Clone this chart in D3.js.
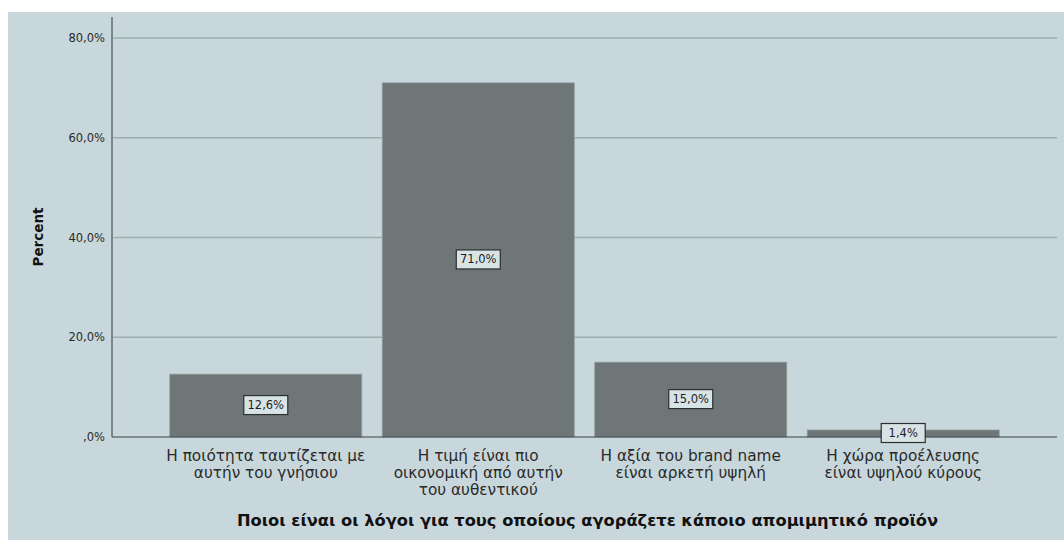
<!DOCTYPE html>
<html>
<head>
<meta charset="utf-8">
<script src="https://cdn.jsdelivr.net/npm/d3@7/dist/d3.min.js"></script>
<style>
  html, body { margin: 0; padding: 0; background: #ffffff; }
  svg { display: block; }
</style>
</head>
<body>
<svg id="chart" width="1064" height="540"></svg>
<script>
// Reasons for buying a counterfeit product (percent of respondents)
const categories = [
  ["Η ποιότητα ταυτίζεται με", "αυτήν του γνήσιου"],
  ["Η τιμή είναι πιο", "οικονομική από αυτήν", "του αυθεντικού"],
  ["Η αξία του brand name", "είναι αρκετή υψηλή"],
  ["Η χώρα προέλευσης", "είναι υψηλού κύρους"]
];
const percents = [12.6, 71.0, 15.0, 1.4];
const yTicks = [0, 20, 40, 60, 80];
const xTitle = "Ποιοι είναι οι λόγοι για τους οποίους αγοράζετε κάποιο απομιμητικό προϊόν";
const yTitle = "Percent";

// "20,0%" style, with the leading zero dropped for zero (",0%")
const pct = v => (v === 0 ? ",0%" : d3.format(".1f")(v).replace(".", ",") + "%");

const FONT = "'DejaVu Sans', Verdana, sans-serif";
const svg = d3.select("#chart");
const W = 1064, H = 540;
const plotL = 112, plotR = 1057, plotT = 17, plotB = 437;

// panel background
svg.append("rect").attr("x", 8).attr("y", 12).attr("width", W - 8).attr("height", H - 12)
  .attr("fill", "#c8d7db");

const x = d3.scaleBand()
  .domain(d3.range(categories.length))
  .range([plotL, plotR])
  .paddingInner(0.0965)
  .paddingOuter(0.272);

const y = d3.scaleLinear().domain([0, 80]).range([plotB, 38]);

// grid lines
svg.append("g").selectAll("line").data(yTicks.filter(t => t > 0)).join("line")
  .attr("x1", plotL).attr("x2", plotR)
  .attr("y1", d => y(d)).attr("y2", d => y(d))
  .attr("stroke", "#9daeae").attr("stroke-width", 1.5);

// y tick labels
svg.append("g").selectAll("text").data(yTicks).join("text")
  .attr("x", 105).attr("y", d => y(d))
  .attr("dy", "0.35em")
  .attr("text-anchor", "end")
  .attr("font-family", FONT)
  .attr("font-size", 11.5)
  .attr("fill", "#2a2a2a")
  .text(d => pct(d));

// bars
svg.append("g").selectAll("rect").data(percents).join("rect")
  .attr("x", (d, i) => x(i))
  .attr("y", d => y(d))
  .attr("width", x.bandwidth())
  .attr("height", d => y(0) - y(d))
  .attr("fill", "#6e7677")
  .attr("stroke", "#8f9b9b")
  .attr("stroke-width", 0.8);

// axis lines
svg.append("line").attr("x1", plotL).attr("x2", plotL).attr("y1", plotT).attr("y2", plotB)
  .attr("stroke", "#7a8687").attr("stroke-width", 2);
svg.append("line").attr("x1", plotL).attr("x2", plotR).attr("y1", plotB).attr("y2", plotB)
  .attr("stroke", "#3c4243").attr("stroke-width", 1.2);

// value labels
const lab = svg.append("g").selectAll("g").data(percents).join("g")
  .attr("transform", (d, i) => `translate(${x(i) + x.bandwidth() / 2},${(y(d) + y(0)) / 2})`);
lab.append("rect")
  .attr("x", -22).attr("y", -10).attr("width", 44).attr("height", 19)
  .attr("fill", "#d8e3e5").attr("stroke", "#2b2f30").attr("stroke-width", 1.2);
lab.append("text")
  .attr("text-anchor", "middle").attr("dy", "0.35em").attr("y", -0.5)
  .attr("font-family", FONT)
  .attr("font-size", 11.5).attr("fill", "#1e1e1e")
  .text(d => pct(d));

// category labels
const cat = svg.append("g").selectAll("text").data(categories).join("text")
  .attr("text-anchor", "middle")
  .attr("font-family", FONT)
  .attr("font-size", 15.3)
  .attr("fill", "#2a2a2a");
cat.selectAll("tspan").data((d, i) => d.map(s => ({ s, i }))).join("tspan")
  .attr("x", d => x(d.i) + x.bandwidth() / 2)
  .attr("y", (d, j) => 460.5 + j * 17)
  .text(d => d.s);

// axis titles
svg.append("text")
  .attr("x", (plotL + plotR) / 2 + 3).attr("y", 525.5)
  .attr("text-anchor", "middle")
  .attr("font-family", FONT)
  .attr("font-weight", "bold")
  .attr("font-size", 16.3)
  .attr("fill", "#111")
  .text(xTitle);

svg.append("text")
  .attr("transform", `translate(43,237) rotate(-90)`)
  .attr("text-anchor", "middle")
  .attr("font-family", FONT)
  .attr("font-weight", "bold")
  .attr("font-size", 13.5)
  .attr("fill", "#111")
  .text(yTitle);
</script>
</body>
</html>
